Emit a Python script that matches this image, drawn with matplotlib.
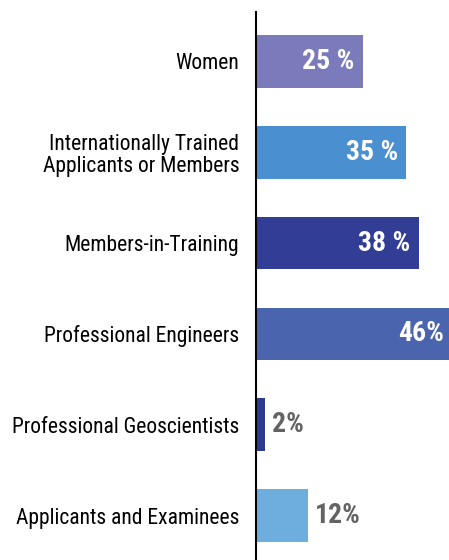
import matplotlib.pyplot as plt

# data
categories = ['Women', 'Internationally Trained\nApplicants or Members', 'Members-in-Training',
              'Professional Engineers', 'Professional Geoscientists', 'Applicants and Examinees']
values = [25, 35, 38, 46, 2, 12]
value_labels = ['25 %', '35 %', '38 %', '46%', '2%', '12%']
bar_colors = ['#7b7bbb', '#4a8fd0', '#323e96', '#4a64ad', '#2b3a8f', '#6eaede']

font = ['Roboto Condensed', 'Liberation Sans Narrow', 'Roboto', 'DejaVu Sans']
xmax = 44.9

fig = plt.figure(figsize=(4.49, 5.60), dpi=100)
ax = fig.add_axes([256 / 449, 0, 1 - 256 / 449, 548 / 560])

ypos = list(range(len(values)))
ax.barh(ypos, values, height=0.58, color=bar_colors)
ax.set_xlim(0, xmax)
ax.set_ylim(5.49, -0.545)

for spine in ['top', 'right', 'bottom']:
    ax.spines[spine].set_visible(False)
ax.spines['left'].set_linewidth(1.5)
ax.set_xticks([])
ax.set_yticks(ypos)
ax.set_yticklabels(categories, fontsize=15.5, family=font, linespacing=1.1)
ax.tick_params(axis='y', length=0, pad=12)

# value labels: inside white for big bars, outside grey for small ones
for y, v, lab in zip(ypos, values, value_labels):
    if v > 20:
        ax.text(min(v - 2.0, xmax - 1.2), y, lab, ha='right', va='center', color='white',
                fontsize=20, fontweight='bold', family=font)
    else:
        ax.text(v + 1.8, y, lab, ha='left', va='center', color='#636363',
                fontsize=20, fontweight='bold', family=font)

fig.savefig('out.png', dpi=100)
